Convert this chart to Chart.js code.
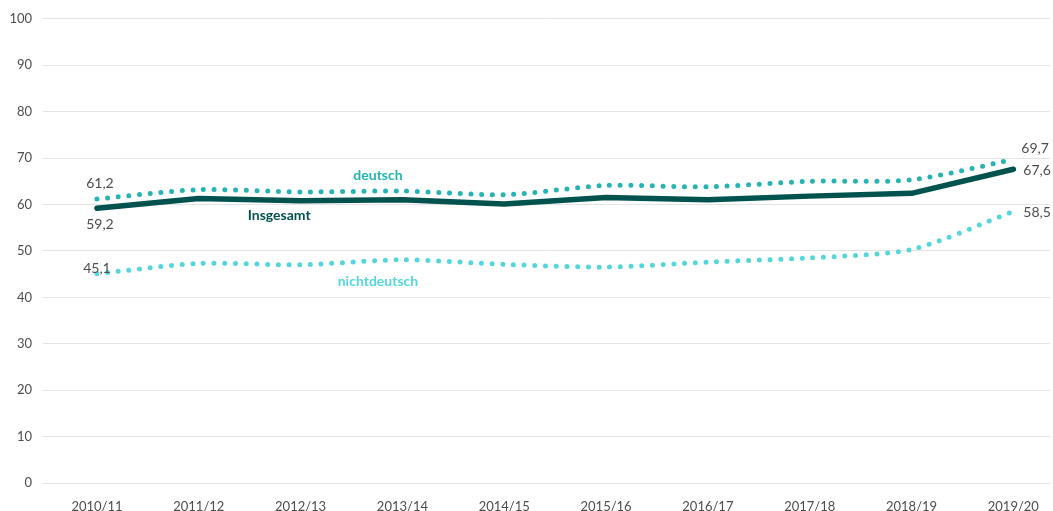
<!DOCTYPE html>
<html lang="de">
<head>
    <meta charset="UTF-8">
    <title>Quote</title>
    <script src="https://cdn.jsdelivr.net/npm/chart.js"></script>
    <style>
        html, body { margin: 0; padding: 0; background: #fff; }
        .grafico { width: 1053px; height: 511px; }
    </style>
</head>
<body>
    <div class="grafico">
        <canvas id="canva1"></canvas>
    </div>

<script>
    var jahre = ["2010/11", "2011/12", "2012/13", "2013/14", "2014/15", "2015/16", "2016/17", "2017/18", "2018/19", "2019/20"];
    var insgesamt = [59.2, 61.3, 60.8, 61.0, 60.1, 61.5, 61.0, 61.8, 62.4, 67.6];
    var deutsch = [61.2, 63.2, 62.7, 62.9, 62.1, 64.1, 63.8, 65.0, 65.3, 69.7];
    var nichtdeutsch = [45.1, 47.3, 47.0, 48.1, 47.1, 46.5, 47.6, 48.5, 50.3, 58.5];
    var yTicks = [0, 10, 20, 30, 40, 50, 60, 70, 80, 90, 100];

    var fonte = "Lato, 'Open Sans', sans-serif";

    function punkte(werte) {
        var lista = [];
        for (var i = 0; i < werte.length; i++) {
            lista.push({ x: i, y: werte[i] });
        }
        return lista;
    }

    function komma(v) {
        return v.toFixed(1).replace(".", ",");
    }

    // Beschriftungen an den Linien
    var beschriftung = {
        id: "beschriftung",
        afterDatasetsDraw: function (chart) {
            var ctx = chart.ctx;
            var sx = chart.scales.x;
            var sy = chart.scales.y;
            var letzte = jahre.length - 1;
            ctx.save();
            ctx.textBaseline = "middle";

            ctx.font = "14px " + fonte;
            ctx.fillStyle = "#4d4d4d";
            ctx.textAlign = "center";
            ctx.fillText(komma(deutsch[0]), sx.getPixelForValue(0) + 3, sy.getPixelForValue(deutsch[0]) - 15);
            ctx.fillText(komma(insgesamt[0]), sx.getPixelForValue(0) + 3, sy.getPixelForValue(insgesamt[0]) + 16);
            ctx.fillText(komma(nichtdeutsch[0]), sx.getPixelForValue(0), sy.getPixelForValue(nichtdeutsch[0]) - 5);
            ctx.textAlign = "left";
            ctx.fillText(komma(deutsch[letzte]), sx.getPixelForValue(letzte) + 8, sy.getPixelForValue(deutsch[letzte]) - 11);
            ctx.fillText(komma(insgesamt[letzte]), sx.getPixelForValue(letzte) + 10, sy.getPixelForValue(insgesamt[letzte]) + 1);
            ctx.fillText(komma(nichtdeutsch[letzte]), sx.getPixelForValue(letzte) + 10, sy.getPixelForValue(nichtdeutsch[letzte]) + 1);

            ctx.font = "bold 14px " + fonte;
            ctx.textAlign = "center";
            ctx.fillStyle = "#26b3b1";
            ctx.fillText("deutsch", sx.getPixelForValue(2.76), sy.getPixelForValue(66.2));
            ctx.fillStyle = "#00524e";
            ctx.fillText("Insgesamt", sx.getPixelForValue(1.79), sy.getPixelForValue(57.6));
            ctx.fillStyle = "#55d6da";
            ctx.fillText("nichtdeutsch", sx.getPixelForValue(2.76), sy.getPixelForValue(43.4));
            ctx.restore();
        }
    };

    new Chart(document.getElementById("canva1"), {
        type: "line",
        data: {
            datasets: [
                {
                    label: "Insgesamt",
                    data: punkte(insgesamt),
                    borderColor: "#00524e",
                    borderWidth: 5.5,
                    borderCapStyle: "round",
                    borderJoinStyle: "round",
                    pointRadius: 0,
                    tension: 0,
                },
                {
                    label: "deutsch",
                    data: punkte(deutsch),
                    borderColor: "#26b3b1",
                    borderWidth: 5,
                    borderDash: [0, 10.7],
                    borderCapStyle: "round",
                    pointRadius: 0,
                    tension: 0.25,
                },
                {
                    label: "nichtdeutsch",
                    data: punkte(nichtdeutsch),
                    borderColor: "#55d6da",
                    borderWidth: 5,
                    borderDash: [0, 10.7],
                    borderCapStyle: "round",
                    pointRadius: 0,
                    tension: 0.25,
                },
            ],
        },
        options: {
            responsive: true,
            maintainAspectRatio: false,
            animation: false,
            layout: {
                padding: { top: 18, right: 3, bottom: 0, left: 0 },
            },
            plugins: {
                legend: { display: false },
                tooltip: { enabled: false },
            },
            scales: {
                x: {
                    type: "linear",
                    min: -0.53,
                    max: 9.36,
                    afterBuildTicks: function (s) {
                        s.ticks = jahre.map(function (j, i) { return { value: i }; });
                    },
                    afterFit: function (s) { s.height = 28; },
                    grid: { display: false },
                    border: { display: false },
                    ticks: {
                        padding: 8,
                        color: "#4d4d4d",
                        font: { family: fonte, size: 13 },
                        maxRotation: 0,
                        callback: function (v) { return jahre[v]; },
                    },
                },
                y: {
                    min: 0,
                    max: 100,
                    afterBuildTicks: function (s) {
                        s.ticks = yTicks.map(function (t) { return { value: t }; });
                    },
                    afterFit: function (s) { s.width = 43; },
                    grid: { color: "#e3e3e3", lineWidth: 1, drawTicks: false },
                    border: { display: false },
                    ticks: {
                        padding: 11,
                        color: "#4d4d4d",
                        font: { family: fonte, size: 13 },
                    },
                },
            },
        },
        plugins: [beschriftung],
    });
</script>
</body>
</html>
